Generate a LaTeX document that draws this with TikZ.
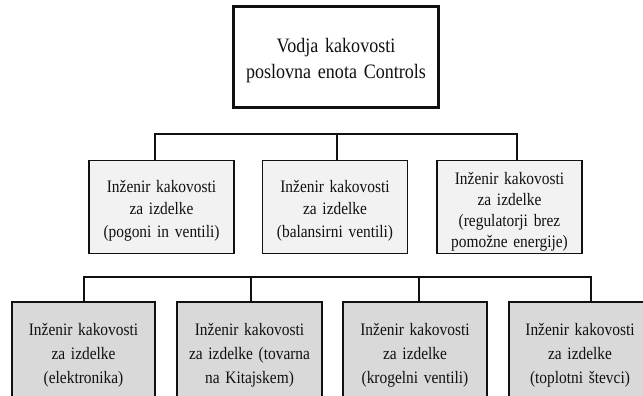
\documentclass[tikz,border=0pt]{standalone}
\usepackage{fontspec}
\setmainfont{Liberation Serif}
\newfontfamily\topfont[FakeStretch=0.88]{Liberation Serif}
\newfontfamily\boxfont[FakeStretch=0.88,WordSpace=1.5]{Liberation Serif}
\definecolor{lvltwo}{HTML}{F2F2F2}
\definecolor{lvlthree}{HTML}{D9D9D9}
\definecolor{edge}{HTML}{111111}
\tikzset{
  topbox/.style={draw=edge, line width=2.2pt, fill=white, rectangle,
    minimum width=205pt, minimum height=101pt, inner sep=0pt},
  midbox/.style={draw=edge, line width=1.6pt, fill=lvltwo, rectangle,
    minimum width=145pt, minimum height=93pt, inner sep=0pt},
  lowbox/.style={draw=edge, line width=1.6pt, fill=lvlthree, rectangle,
    minimum height=100pt, inner sep=0pt},
  toptext/.style={anchor=base, align=center, inner sep=0pt, text=edge,
    font=\topfont\fontsize{20.5}{25}\selectfont},
  midtext/.style={anchor=base, align=center, inner sep=0pt, text=edge,
    font=\boxfont\fontsize{17.5}{22.5}\selectfont},
  lowtext/.style={anchor=base, align=center, inner sep=0pt, text=edge,
    font=\boxfont\fontsize{17.5}{24}\selectfont},
  link/.style={draw=edge, line width=1.5pt}
}
\begin{document}
\begin{tikzpicture}[x=1pt,y=-1pt]
\clip (0,0) rectangle (643,396);
\fill[white] (0,0) rectangle (643,396);

\node[topbox] (top) at (336,57) {};
\node[toptext] (topt) at (336,78) {Vodja kakovosti\\poslovna enota Controls};

\node[midbox] (m1) at (161.5,207) {};
\node[midbox] (m2) at (335,207) {};
\node[midbox] (m3) at (509.5,207) {};
\node[midtext] (m1t) at (161.5,237) {Inženir kakovosti\\za izdelke\\(pogoni in ventili)};
\node[midtext] (m2t) at (335,237) {Inženir kakovosti\\za izdelke\\(balansirni ventili)};
\node[midtext, font=\boxfont\fontsize{17.5}{21}\selectfont] (m3t) at (509.5,247) {Inženir kakovosti\\za izdelke\\(regulatorji brez\\pomožne energije)};

\node[lowbox, minimum width=143pt] (l1) at (83.5,352) {};
\node[lowbox, minimum width=145pt] (l2) at (249.5,352) {};
\node[lowbox, minimum width=144pt] (l3) at (415,352) {};
\node[lowbox, minimum width=142pt] (l4) at (580,352) {};
\node[lowtext] (l1t) at (83.5,383) {Inženir kakovosti\\za izdelke\\(elektronika)};
\node[lowtext] (l2t) at (249.5,383) {Inženir kakovosti\\za izdelke (tovarna\\na Kitajskem)};
\node[lowtext] (l3t) at (415,383) {Inženir kakovosti\\za izdelke\\(krogelni ventili)};
\node[lowtext] (l4t) at (580,383) {Inženir kakovosti\\za izdelke\\(toplotni števci)};

\coordinate (a1) at (155,134);
\coordinate (a2) at (337,134);
\coordinate (a3) at (517,134);
\draw[link] (m1.north -| a1) -- (a1) -- (a3) -- (m3.north -| a3);
\draw[link] (a2) -- (m2.north -| a2);

\coordinate (b1) at (84,277);
\coordinate (b2) at (251,277);
\coordinate (b3) at (419,277);
\coordinate (b4) at (591,277);
\draw[link] (l1.north -| b1) -- (b1) -- (b4) -- (l4.north -| b4);
\draw[link] (b2) -- (l2.north -| b2);
\draw[link] (b3) -- (l3.north -| b3);
\end{tikzpicture}
\end{document}
